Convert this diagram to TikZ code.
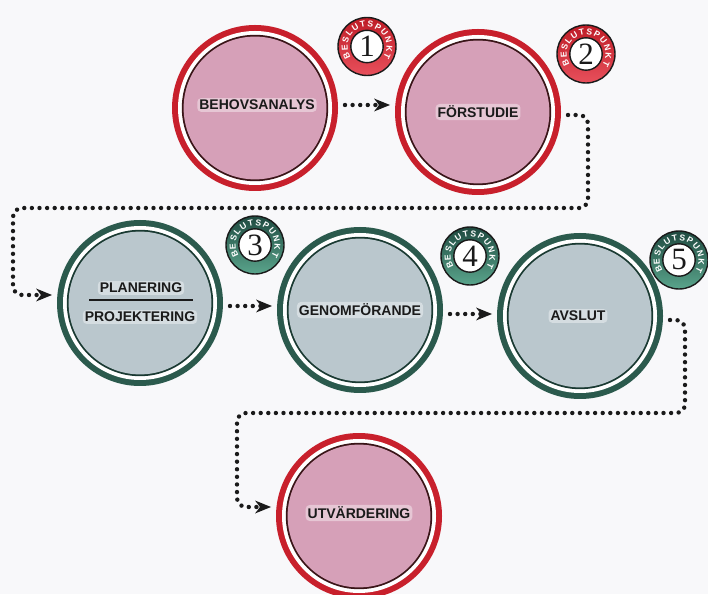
\documentclass[tikz,border=0pt]{standalone}
\usepackage{fontspec}
\setmainfont{Liberation Sans}
\newfontfamily\serifnum{Liberation Serif}
\usetikzlibrary{arrows.meta,decorations.text}

\definecolor{ringred}{HTML}{C8202C}
\definecolor{ringgreen}{HTML}{2B5A4D}
\definecolor{pinkfill}{HTML}{D6A0B8}
\definecolor{greyfill}{HTML}{BAC7CD}
\definecolor{linered}{HTML}{3A1518}
\definecolor{linegreen}{HTML}{1A3A32}
\definecolor{badgeredlt}{HTML}{E8505C}
\definecolor{badgereddk}{HTML}{BE1C26}
\definecolor{badgegreenlt}{HTML}{5AA58C}
\definecolor{badgegreendk}{HTML}{1F4A40}
\definecolor{ink}{HTML}{1A1A1A}
\definecolor{bg}{HTML}{F8F8FA}

\tikzset{
  phase/.style={circle, minimum size=166pt, inner sep=0pt, outer sep=0pt},
  lbl/.style={font=\bfseries\fontsize{14}{14}\selectfont, text=ink, fill=white,
    fill opacity=0.4, text opacity=1, rounded corners=4pt, inner sep=2pt},
  conn/.style={draw=ink, line width=4.4pt, line cap=round, dash pattern=on 0pt off 7.6pt,
    -{Stealth[length=16pt,width=13pt,inset=5pt,line width=0pt]}, shorten <=7pt, shorten >=5pt},
  numfont/.style={font=\serifnum\fontsize{31}{31}\selectfont, text=ink},
}

\newcommand\phasedisc[4]{% node, ring colour, line colour, fill colour
  \fill[#2] (#1.center) circle (83);
  \fill[white] (#1.center) circle (77);
  \fill[#3] (#1.center) circle (73.2);
  \fill[#4] (#1.center) circle (71.4);
}

\newcommand\badge[5]{% name, position, dark, light, number
  \coordinate (#1c) at (#2);
  \shade[top color=#3, middle color=#3, bottom color=#4] (#1c) circle (29);
  \draw[ink, line width=1.4pt] (#1c) circle (29);
  \path[decorate, decoration={text along path,
      text={|\bfseries\fontsize{8.6}{8.6}\selectfont|BESLUTSPUNKT},
      text color=white, text align={fit to path}}]
    ([shift={(214:19.4)}]#1c) arc[start angle=214, end angle=-34, radius=19.4];
  \draw[ink, line width=1.4pt, fill=white] (#1c) circle (16.2);
  \node[numfont, circle, inner sep=0pt, minimum size=32pt] (#1) at (#1c) {#5};
}

\begin{document}
\begin{tikzpicture}[x=1pt,y=1pt]
\fill[bg] (0,0) rectangle (708,594);
\useasboundingbox (0,0) rectangle (708,594);

\node[phase] (c1) at (255,486) {};
\node[phase] (c2) at (478,482) {};
\node[phase] (c3) at (140,291) {};
\node[phase] (c4) at (360,284) {};
\node[phase] (c5) at (580,278) {};
\node[phase] (c6) at (359,78) {};

\phasedisc{c1}{ringred}{linered}{pinkfill}
\phasedisc{c2}{ringred}{linered}{pinkfill}
\phasedisc{c3}{ringgreen}{linegreen}{greyfill}
\phasedisc{c4}{ringgreen}{linegreen}{greyfill}
\phasedisc{c5}{ringgreen}{linegreen}{greyfill}
\phasedisc{c6}{ringred}{linered}{pinkfill}

\node[lbl] (l1) at ([xshift=2pt,yshift=3pt]c1.center) {BEHOVSANALYS};
\node[lbl] (l2) at (c2.center) {FÖRSTUDIE};
\node[lbl] (l3a) at ([xshift=1pt,yshift=15pt]c3.center) {PLANERING};
\draw[ink, line width=1.6pt] ([xshift=-51pt,yshift=3pt]c3.center) coordinate (r3a)
  -- ([xshift=53pt,yshift=3pt]c3.center) coordinate (r3b);
\node[lbl] (l3b) at ([yshift=-14pt]c3.center) {PROJEKTERING};
\node[lbl] (l4) at (c4.center) {GENOMFÖRANDE};
\node[lbl] (l5) at ([xshift=-2pt]c5.center) {AVSLUT};
\node[lbl] (l6) at ([yshift=3pt]c6.center) {UTVÄRDERING};

\badge{b1}{367,547.5}{badgereddk}{badgeredlt}{1}
\badge{b2}{586,540}{badgereddk}{badgeredlt}{2}
\badge{b3}{255,349}{badgegreendk}{badgegreenlt}{3}
\badge{b4}{470,338}{badgegreendk}{badgegreenlt}{4}
\badge{b5}{679,334}{badgegreendk}{badgegreenlt}{5}

\coordinate (k1) at (588,479);
\coordinate (k2) at (588,386);
\coordinate (k3) at (13,386);
\coordinate (k4) at (13,299);
\coordinate (m1) at (685,274);
\coordinate (m2) at (685,181);
\coordinate (m3) at (237,181);
\coordinate (m4) at (237,87);

\draw[conn] ([yshift=3pt]c1.east) -- ([yshift=7pt]c2.west);
\draw[conn, rounded corners=9pt] ([yshift=-3pt]c2.east) -- (k1) -- (k2) -- (k3) -- (k4) -- ([yshift=8pt]c3.west);
\draw[conn] ([yshift=-3pt]c3.east) -- ([yshift=4pt]c4.west);
\draw[conn] ([yshift=-4pt]c4.east) -- ([yshift=2pt]c5.west);
\draw[conn, rounded corners=9pt] ([yshift=-4pt]c5.east) -- (m1) -- (m2) -- (m3) -- (m4) -- ([yshift=9pt]c6.west);
\end{tikzpicture}
\end{document}
